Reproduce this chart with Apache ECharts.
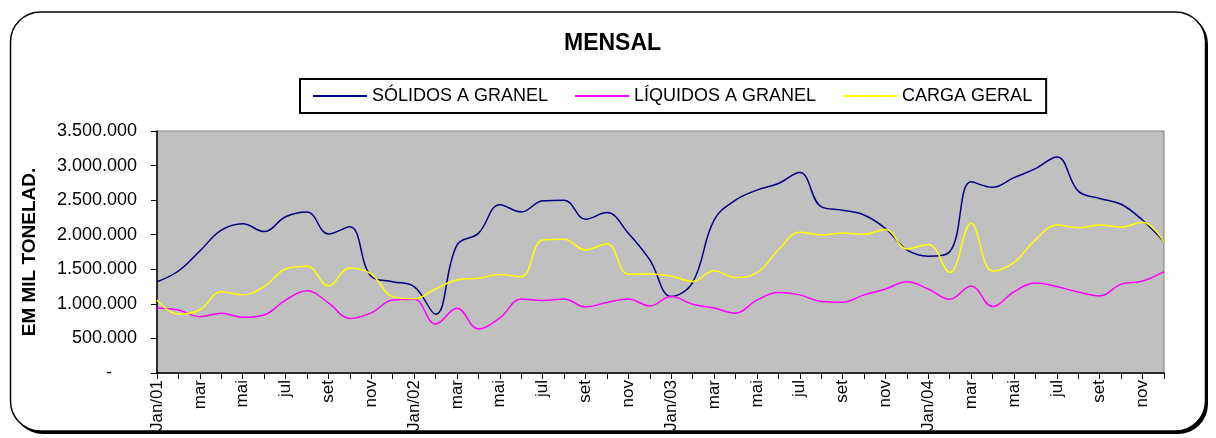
<!DOCTYPE html>
<html>
<head>
<meta charset="utf-8">
<script src="https://cdn.jsdelivr.net/npm/echarts@6/dist/echarts.min.js"></script>
<style>
  html, body { margin: 0; padding: 0; background: #fff; }
  #chart { width: 1216px; height: 438px; }
</style>
</head>
<body>
<div id="chart"></div>
<script>
// meses (Jan/01 .. Dez/04)
var mesesAbrev = ['jan', 'fev', 'mar', 'abr', 'mai', 'jun', 'jul', 'ago', 'set', 'out', 'nov', 'dez'];
var anos = ['01', '02', '03', '04'];

var solidos = [1320000, 1475000, 1765000, 2065000, 2160000, 2045000, 2260000, 2330000, 2010000, 2115000, 1395000, 1320000,
               1250000, 850000, 1850000, 2020000, 2435000, 2330000, 2490000, 2500000, 2225000, 2320000, 2020000, 1635000,
               1105000, 1310000, 2210000, 2500000, 2645000, 2740000, 2900000, 2405000, 2355000, 2285000, 2090000, 1780000,
               1690000, 1755000, 2765000, 2685000, 2825000, 2955000, 3125000, 2630000, 2525000, 2440000, 2210000, 1900000];

var liquidos = [940000, 910000, 815000, 865000, 805000, 840000, 1055000, 1190000, 1015000, 790000, 870000, 1055000,
                1065000, 708000, 938000, 638000, 795000, 1070000, 1050000, 1070000, 955000, 1020000, 1070000, 970000,
                1105000, 995000, 940000, 865000, 1055000, 1165000, 1130000, 1035000, 1025000, 1130000, 1215000, 1320000,
                1215000, 1065000, 1260000, 960000, 1175000, 1300000, 1250000, 1170000, 1115000, 1285000, 1330000, 1465000];

var carga = [1055000, 850000, 915000, 1175000, 1130000, 1250000, 1505000, 1545000, 1260000, 1520000, 1435000, 1105000,
             1075000, 1215000, 1345000, 1370000, 1425000, 1395000, 1925000, 1935000, 1780000, 1870000, 1430000, 1432000,
             1400000, 1325000, 1480000, 1380000, 1450000, 1780000, 2035000, 1995000, 2025000, 2005000, 2075000, 1795000,
             1860000, 1455000, 2165000, 1475000, 1600000, 1925000, 2140000, 2100000, 2140000, 2110000, 2180000, 1895000];

var meses = [];
for (var a = 0; a < anos.length; a++) {
  for (var m = 0; m < 12; m++) {
    meses.push(m === 0 ? 'Jan/' + anos[a] : mesesAbrev[m]);
  }
}

function fmtMil(v) {
  if (v === 0) return '-     ';
  return String(v).replace(/\B(?=(\d{3})+(?!\d))/g, '.');
}

var fonte = '"Liberation Sans", Arial, sans-serif';

var option = {
  animation: false,
  textStyle: { fontFamily: fonte },
  graphic: [{
    // sombra da moldura
    type: 'rect',
    z: -20,
    silent: true,
    shape: { x: 13, y: 14, width: 1195, height: 420, r: 30 },
    style: { fill: '#000' }
  }, {
    type: 'rect',
    z: -10,
    silent: true,
    shape: { x: 10.5, y: 12, width: 1195, height: 419, r: 30 },
    style: { fill: '#fff', stroke: '#000', lineWidth: 1.5 }
  }],
  title: {
    text: 'MENSAL',
    left: 559,
    top: 27,
    textStyle: { fontSize: 23, fontWeight: 'bold', color: '#000', fontFamily: fonte }
  },
  legend: {
    left: 300,
    top: 79,
    padding: [8, 14, 8, 13],
    itemGap: 27,
    itemWidth: 54,
    itemHeight: 2,
    icon: 'rect',
    borderColor: '#000',
    borderWidth: 2,
    textStyle: { fontSize: 18, color: '#000', fontFamily: fonte },
    data: ['SÓLIDOS A GRANEL', 'LÍQUIDOS A GRANEL', 'CARGA GERAL']
  },
  grid: {
    show: true,
    left: 157,
    right: 52,
    top: 131,
    bottom: 65,
    backgroundColor: '#C0C0C0',
    borderColor: '#808080',
    borderWidth: 1
  },
  xAxis: {
    type: 'category',
    data: meses,
    boundaryGap: false,
    axisLine: { lineStyle: { color: '#000', width: 1.5 } },
    axisTick: { interval: 0, length: 6, lineStyle: { color: '#000' } },
    axisLabel: { interval: 1, rotate: 90, fontSize: 17, color: '#000', margin: 7, fontFamily: fonte },
    splitLine: { show: false }
  },
  yAxis: {
    type: 'value',
    min: 0,
    max: 3500000,
    interval: 500000,
    name: 'EM MIL TONELAD.',
    nameLocation: 'middle',
    nameGap: 118,
    nameTextStyle: { fontSize: 19, fontWeight: 'bold', color: '#000', fontFamily: fonte },
    axisLine: { show: true, lineStyle: { color: '#000', width: 1.5 } },
    axisTick: { show: true, length: 6, lineStyle: { color: '#000' } },
    axisLabel: { formatter: fmtMil, fontSize: 18, color: '#000', margin: 20, fontFamily: fonte },
    splitLine: { show: false }
  },
  series: [{
    name: 'SÓLIDOS A GRANEL',
    type: 'line',
    data: solidos,
    smooth: 0.4,
    symbol: 'none',
    color: '#000080',
    lineStyle: { width: 1.5 }
  }, {
    name: 'LÍQUIDOS A GRANEL',
    type: 'line',
    data: liquidos,
    smooth: 0.4,
    symbol: 'none',
    color: '#FF00FF',
    lineStyle: { width: 1.5 }
  }, {
    name: 'CARGA GERAL',
    type: 'line',
    data: carga,
    smooth: 0.4,
    symbol: 'none',
    color: '#FFFF00',
    lineStyle: { width: 1.5 }
  }]
};

var grafico = echarts.init(document.getElementById('chart'));
grafico.setOption(option);
</script>
</body>
</html>
